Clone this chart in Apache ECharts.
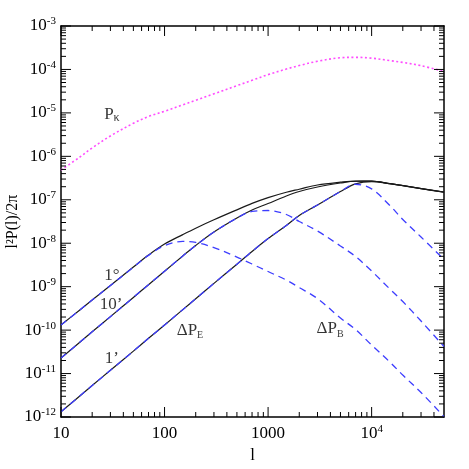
<!DOCTYPE html>
<html>
<head>
<meta charset="utf-8">
<script src="https://cdn.jsdelivr.net/npm/echarts@6/dist/echarts.min.js"></script>
<style>
	html,body{margin:0;padding:0;background:#fff;}
	#main{width:469px;height:469px;}
</style>
</head>
<body>
<div id="main"></div>
<script>
	// multipole grid shared by every curve
	var ells = [10,15,20,30,50,70,100,150,200,300,500,700,1000,1500,2000,3000,5000,7000,10000,15000,20000,30000,50000];

	// P_kappa (dotted magenta)
	var pKappa = [4.84e-7,9.4e-7,1.56e-6,2.94e-6,5.76e-6,8.25e-6,1.09e-5,1.53e-5,1.95e-5,2.75e-5,4.24e-5,5.62e-5,7.6e-5,1.02e-4,1.23e-4,1.54e-4,1.86e-4,1.90e-4,1.82e-4,1.60e-4,1.45e-4,1.22e-4,9.0e-5];

	// solid black curves, one per smoothing scale
	var solid1deg = [1.31e-10,2.84e-10,4.93e-10,1.06e-9,2.83e-9,5.35e-9,9.6e-9,1.58e-8,2.22e-8,3.46e-8,5.87e-8,8.24e-8,1.12e-7,1.49e-7,1.75e-7,2.19e-7,2.54e-7,2.70e-7,2.70e-7,2.35e-7,2.13e-7,1.82e-7,1.51e-7];
	var solid10min = [2.28e-11,5.12e-11,9.13e-11,2.04e-10,5.65e-10,1.11e-9,2.27e-9,5.07e-9,8.9e-9,1.81e-8,3.8e-8,5.81e-8,8.20e-8,1.22e-7,1.55e-7,1.97e-7,2.43e-7,2.67e-7,2.68e-7,2.34e-7,2.11e-7,1.80e-7,1.49e-7];
	var solid1min = [1.32e-12,2.97e-12,5.30e-12,1.19e-11,3.28e-11,6.47e-11,1.31e-10,2.96e-10,5.27e-10,1.19e-9,3.29e-9,6.44e-9,1.28e-8,2.55e-8,4.34e-8,7.57e-8,1.55e-7,2.33e-7,2.63e-7,2.36e-7,2.12e-7,1.81e-7,1.50e-7];

	// dashed blue curves
	var dash1deg = [1.31e-10,2.84e-10,4.93e-10,1.06e-9,2.80e-9,5.25e-9,8.8e-9,1.10e-8,1.04e-8,7.96e-9,4.81e-9,3.32e-9,2.23e-9,1.42e-9,9.56e-10,5.33e-10,1.90e-10,1.03e-10,4.53e-11,1.84e-11,9.24e-12,3.66e-12,1.02e-12];
	var dash10min = [2.28e-11,5.12e-11,9.13e-11,2.04e-10,5.65e-10,1.11e-9,2.27e-9,5.07e-9,8.9e-9,1.81e-8,3.8e-8,5.4e-8,5.66e-8,4.58e-8,3.16e-8,1.91e-8,8.63e-9,4.94e-9,2.29e-9,8.83e-10,4.55e-10,1.62e-10,4.19e-11];
	var dash1min = [1.32e-12,2.97e-12,5.30e-12,1.19e-11,3.28e-11,6.47e-11,1.31e-10,2.96e-10,5.27e-10,1.19e-9,3.29e-9,6.44e-9,1.28e-8,2.55e-8,4.34e-8,7.57e-8,1.55e-7,2.28e-7,1.78e-7,7.38e-8,3.51e-8,1.39e-8,4.22e-9];

	// tick values
	var xMajor = [10,100,1000,10000];
	var xMinor = [20,30,40,50,60,70,80,90,200,300,400,500,600,700,800,900,2000,3000,4000,5000,6000,7000,8000,9000,20000,30000,40000];
	var yMajor = [1e-12,1e-11,1e-10,1e-9,1e-8,1e-7,1e-6,1e-5,1e-4,1e-3];
	var yMinor = [];
	for (var ex = -12; ex < -3; ex++) {
		for (var mant = 2; mant <= 9; mant++) {
			yMinor.push(mant * Math.pow(10, ex));
		}
	}

	// curve annotations
	var noteL = [31, 31, 30.4, 31, 176, 3970];
	var noteP = [9.4e-6, 1.85e-9, 3.98e-10, 2.16e-11, 1.0e-10, 1.06e-10];
	var noteText = ['{t|P}{k|κ}', '{t|1°}', '{t|10’}', '{t|1’}', '{t|ΔP}{s|E}', '{t|ΔP}{s|B}'];

	var X_MIN = 10, X_MAX = 50000, Y_MIN = 1e-12, Y_MAX = 1e-3;
	var FONT = 'Liberation Serif';
	var supRich = {
		b: {fontSize: 17, fontFamily: FONT, color: '#000', lineHeight: 20},
		s: {fontSize: 11, fontFamily: FONT, color: '#000', lineHeight: 12, verticalAlign: 'top'}
	};

	function log10(v) {
		return Math.log(v) / Math.LN10;
	}

	function pairs(ys) {
		return ells.map(function(l, i){ return [l, ys[i]]; });
	}

	function makeAxis(dir, pos, labelVals) {
		var ax = {
			type: 'log',
			logBase: 10,
			position: pos,
			min: dir == 'x' ? X_MIN : Y_MIN,
			max: dir == 'x' ? X_MAX : Y_MAX,
			splitLine: {show: false},
			axisLine: {show: true, lineStyle: {color: '#000', width: 1.5}},
			axisTick: {show: false},
			axisLabel: {show: false}
		};
		if (labelVals) {
			ax.axisLabel = {
				show: true,
				customValues: labelVals,
				margin: dir == 'x' ? 7 : 5,
				rich: supRich,
				formatter: function(v) {
					var k = Math.round(log10(v));
					if (dir == 'x' && k < 4) {
						return '{b|' + Math.round(v) + '}';
					}
					return '{b|10}{s|' + k + '}';
				}
			};
		}
		return ax;
	}

	var xMain = makeAxis('x', 'bottom', xMajor);
	xMain.name = 'l';
	xMain.nameLocation = 'middle';
	xMain.nameGap = 28;
	xMain.nameTextStyle = {fontSize: 17, fontFamily: FONT, color: '#000'};

	var yMain = makeAxis('y', 'left', yMajor);
	yMain.name = 'l²P(l)/2π';
	yMain.nameLocation = 'middle';
	yMain.nameRotate = 90;
	yMain.nameGap = 40;
	yMain.nameMoveOverlap = false;
	yMain.nameTextStyle = {fontSize: 16, fontFamily: FONT, color: '#000'};

	var option = {
		animation: false,
		backgroundColor: '#fff',
		grid: {left: 61, right: 25, top: 26, bottom: 52, containLabel: false, outerBoundsMode: 'none'},
		xAxis: [xMain, makeAxis('x', 'top')],
		yAxis: [yMain, makeAxis('y', 'right')],
		series: []
	};

	function lineSeries(ys, color, type, width) {
		return {
			type: 'line',
			data: pairs(ys),
			xAxisIndex: 0,
			yAxisIndex: 0,
			smooth: 0.35,
			showSymbol: false,
			silent: true,
			lineStyle: {color: color, width: width, type: type}
		};
	}

	option.series.push(lineSeries(pKappa, '#ff4dff', [2, 2.5], 1.6));
	option.series.push(lineSeries(solid1deg, '#1a1a1a', 'solid', 1.2));
	option.series.push(lineSeries(solid10min, '#1a1a1a', 'solid', 1.2));
	option.series.push(lineSeries(solid1min, '#1a1a1a', 'solid', 1.2));
	option.series.push(lineSeries(dash1deg, '#3d3dff', [7, 5], 1.3));
	option.series.push(lineSeries(dash10min, '#3d3dff', [7, 5], 1.3));
	option.series.push(lineSeries(dash1min, '#3d3dff', [7, 5], 1.3));

	// inward ticks: thin filled rect symbols sitting on each frame edge
	function tickSeries(points, size, offset) {
		return {
			type: 'scatter',
			xAxisIndex: 0,
			yAxisIndex: 0,
			silent: true,
			clip: false,
			z: 6,
			symbol: 'rect',
			symbolSize: size,
			symbolOffset: offset,
			itemStyle: {color: '#000', opacity: 1, borderWidth: 0},
			data: points
		};
	}
	function atBottom(vals) { return vals.map(function(v){ return [v, Y_MIN]; }); }
	function atTop(vals) { return vals.map(function(v){ return [v, Y_MAX]; }); }
	function atLeft(vals) { return vals.map(function(v){ return [X_MIN, v]; }); }
	function atRight(vals) { return vals.map(function(v){ return [X_MAX, v]; }); }

	option.series.push(tickSeries(atBottom(xMajor), [1, 10], [0, -5]));
	option.series.push(tickSeries(atBottom(xMinor), [1, 5], [0, -2.5]));
	option.series.push(tickSeries(atTop(xMajor), [1, 10], [0, 5]));
	option.series.push(tickSeries(atTop(xMinor), [1, 5], [0, 2.5]));
	option.series.push(tickSeries(atLeft(yMajor), [10, 1], [5, 0]));
	option.series.push(tickSeries(atLeft(yMinor), [5, 1], [2.5, 0]));
	option.series.push(tickSeries(atRight(yMajor), [10, 1], [-5, 0]));
	option.series.push(tickSeries(atRight(yMinor), [5, 1], [-2.5, 0]));

	option.series.push({
		type: 'scatter',
		xAxisIndex: 0,
		yAxisIndex: 0,
		symbolSize: 1,
		itemStyle: {color: 'rgba(0,0,0,0)'},
		silent: true,
		data: noteL.map(function(l, i){
			return {value: [l, noteP[i]], label: {formatter: noteText[i]}};
		}),
		label: {
			show: true,
			position: 'inside',
			align: 'center',
			verticalAlign: 'middle',
			rich: {
				t: {fontSize: 17, fontFamily: FONT, color: '#000', lineHeight: 20},
				k: {fontSize: 12, fontFamily: FONT, color: '#000', lineHeight: 12, verticalAlign: 'bottom'},
				s: {fontSize: 10, fontFamily: FONT, color: '#000', lineHeight: 10, verticalAlign: 'bottom'}
			}
		}
	});

	var chart = echarts.init(document.getElementById('main'), null, {renderer: 'canvas'});
	chart.setOption(option);
</script>
</body>
</html>
